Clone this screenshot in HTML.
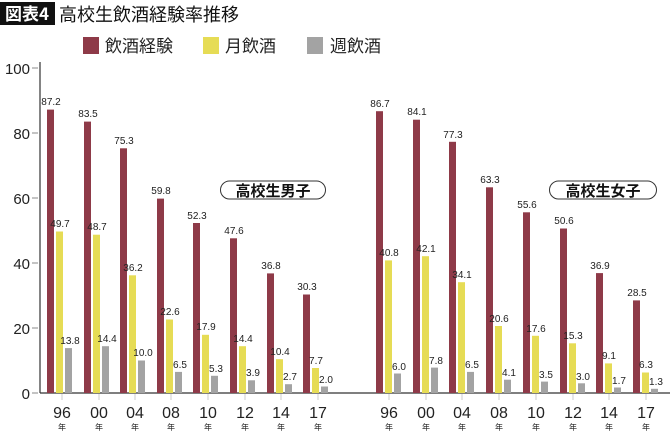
<!DOCTYPE html>
<html><head><meta charset="utf-8"><style>
html,body{margin:0;padding:0;background:#fff;}
svg{display:block;font-family:"Liberation Sans","Noto Sans CJK JP",sans-serif;}
.v{font-size:10px;fill:#222;text-anchor:middle;font-family:"Liberation Sans Narrow","Liberation Sans",sans-serif;}
.yl{font-size:15px;fill:#222;text-anchor:end;}
.xl{font-size:16px;fill:#222;text-anchor:middle;}
.nen{font-size:8px;fill:#222;text-anchor:middle;font-family:"Noto Sans CJK JP",sans-serif;}
</style></head><body>
<svg width="670" height="438" viewBox="0 0 670 438" xmlns="http://www.w3.org/2000/svg">
<rect x="0" y="2" width="55" height="23" fill="#111"/>
<text x="27" y="20" font-size="17" fill="#fff" text-anchor="middle" font-weight="bold" font-family="Noto Sans CJK JP,sans-serif">図表4</text>
<text x="59" y="21" font-size="18" fill="#111" font-family="Noto Sans CJK JP,sans-serif">高校生飲酒経験率推移</text>
<rect x="83" y="37" width="16" height="17" fill="#8e3a48"/>
<text x="105" y="52" font-size="17" fill="#222" font-family="Noto Sans CJK JP,sans-serif">飲酒経験</text>
<rect x="203" y="37" width="16" height="17" fill="#e6dc55"/>
<text x="225" y="52" font-size="17" fill="#222" font-family="Noto Sans CJK JP,sans-serif">月飲酒</text>
<rect x="307" y="37" width="16" height="17" fill="#a3a3a3"/>
<text x="330" y="52" font-size="17" fill="#222" font-family="Noto Sans CJK JP,sans-serif">週飲酒</text>
<line x1="40" y1="62" x2="40" y2="393" stroke="#333" stroke-width="1.2"/>
<line x1="40" y1="393" x2="670" y2="393" stroke="#333" stroke-width="1.2"/>
<g stroke="#888" stroke-width="1">
<line x1="32" y1="68" x2="38" y2="68"/><line x1="32" y1="133" x2="38" y2="133"/><line x1="32" y1="198" x2="38" y2="198"/><line x1="32" y1="263" x2="38" y2="263"/><line x1="32" y1="328" x2="38" y2="328"/><line x1="32" y1="393" x2="38" y2="393"/>
</g>
<text class="yl" x="30" y="74">100</text><text class="yl" x="30" y="139">80</text><text class="yl" x="30" y="204">60</text><text class="yl" x="30" y="269">40</text><text class="yl" x="30" y="334">20</text><text class="yl" x="30" y="399">0</text>
<g fill="#8e3a48">
<rect x="47" y="109.6" width="7" height="283.4"/><rect x="84" y="121.6" width="7" height="271.4"/><rect x="120" y="148.3" width="7" height="244.7"/><rect x="157" y="198.6" width="7" height="194.4"/><rect x="193" y="223" width="7" height="170"/><rect x="230" y="238.3" width="7" height="154.7"/><rect x="267" y="273.4" width="7" height="119.6"/><rect x="303" y="294.5" width="7" height="98.5"/>
<rect x="376" y="111.2" width="7" height="281.8"/><rect x="413" y="119.7" width="7" height="273.3"/><rect x="449" y="141.8" width="7" height="251.2"/><rect x="486" y="187.3" width="7" height="205.7"/><rect x="523" y="212.3" width="7" height="180.7"/><rect x="560" y="228.5" width="7" height="164.5"/><rect x="596" y="273.1" width="7" height="119.9"/><rect x="633" y="300.4" width="7" height="92.6"/>
</g>
<g fill="#e6dc55">
<rect x="56" y="231.5" width="7" height="161.5"/><rect x="93" y="234.7" width="7" height="158.3"/><rect x="129" y="275.3" width="7" height="117.7"/><rect x="166" y="319.5" width="7" height="73.5"/><rect x="202" y="334.8" width="7" height="58.2"/><rect x="239" y="346.2" width="7" height="46.8"/><rect x="276" y="359.2" width="7" height="33.8"/><rect x="312" y="368" width="7" height="25"/>
<rect x="385" y="260.4" width="7" height="132.6"/><rect x="422" y="256.2" width="7" height="136.8"/><rect x="458" y="282.2" width="7" height="110.8"/><rect x="495" y="326" width="7" height="67"/><rect x="532" y="335.8" width="7" height="57.2"/><rect x="569" y="343.3" width="7" height="49.7"/><rect x="605" y="363.4" width="7" height="29.6"/><rect x="642" y="372.5" width="7" height="20.5"/>
</g>
<g fill="#a3a3a3">
<rect x="65" y="348.1" width="7" height="44.9"/><rect x="102" y="346.2" width="7" height="46.8"/><rect x="138" y="360.5" width="7" height="32.5"/><rect x="175" y="371.9" width="7" height="21.1"/><rect x="211" y="375.8" width="7" height="17.2"/><rect x="248" y="380.3" width="7" height="12.7"/><rect x="285" y="384.2" width="7" height="8.8"/><rect x="321" y="386.5" width="7" height="6.5"/>
<rect x="394" y="373.5" width="7" height="19.5"/><rect x="431" y="367.6" width="7" height="25.4"/><rect x="467" y="371.9" width="7" height="21.1"/><rect x="504" y="379.7" width="7" height="13.3"/><rect x="541" y="381.6" width="7" height="11.4"/><rect x="578" y="383.3" width="7" height="9.7"/><rect x="614" y="387.5" width="7" height="5.5"/><rect x="651" y="388.8" width="7" height="4.2"/>
</g>
<g class="v">
<text class="v" x="51" y="105">87.2</text><text class="v" x="88" y="117">83.5</text><text class="v" x="124" y="144">75.3</text><text class="v" x="161" y="194">59.8</text><text class="v" x="197" y="219">52.3</text><text class="v" x="234" y="234">47.6</text><text class="v" x="271" y="269">36.8</text><text class="v" x="307" y="290">30.3</text>
<text class="v" x="60" y="227">49.7</text><text class="v" x="97" y="230">48.7</text><text class="v" x="133" y="271">36.2</text><text class="v" x="170" y="315">22.6</text><text class="v" x="206" y="330">17.9</text><text class="v" x="243" y="342">14.4</text><text class="v" x="280" y="355">10.4</text><text class="v" x="316" y="364">7.7</text>
<text class="v" x="70" y="344">13.8</text><text class="v" x="107" y="342">14.4</text><text class="v" x="143" y="356">10.0</text><text class="v" x="180" y="368">6.5</text><text class="v" x="216" y="372">5.3</text><text class="v" x="253" y="376">3.9</text><text class="v" x="290" y="380">2.7</text><text class="v" x="326" y="383">2.0</text>
<text class="v" x="380" y="107">86.7</text><text class="v" x="417" y="115">84.1</text><text class="v" x="453" y="138">77.3</text><text class="v" x="490" y="183">63.3</text><text class="v" x="527" y="208">55.6</text><text class="v" x="564" y="224">50.6</text><text class="v" x="600" y="269">36.9</text><text class="v" x="637" y="296">28.5</text>
<text class="v" x="389" y="256">40.8</text><text class="v" x="426" y="252">42.1</text><text class="v" x="462" y="278">34.1</text><text class="v" x="499" y="322">20.6</text><text class="v" x="536" y="332">17.6</text><text class="v" x="573" y="339">15.3</text><text class="v" x="609" y="359">9.1</text><text class="v" x="646" y="368">6.3</text>
<text class="v" x="399" y="370">6.0</text><text class="v" x="436" y="364">7.8</text><text class="v" x="472" y="368">6.5</text><text class="v" x="509" y="376">4.1</text><text class="v" x="546" y="378">3.5</text><text class="v" x="583" y="380">3.0</text><text class="v" x="619" y="384">1.7</text><text class="v" x="656" y="385">1.3</text>
</g>
<g stroke="#ccc" stroke-width="1">
<line x1="62" y1="394" x2="62" y2="400"/><line x1="99" y1="394" x2="99" y2="400"/><line x1="135" y1="394" x2="135" y2="400"/><line x1="171" y1="394" x2="171" y2="400"/><line x1="208" y1="394" x2="208" y2="400"/><line x1="245" y1="394" x2="245" y2="400"/><line x1="281" y1="394" x2="281" y2="400"/><line x1="318" y1="394" x2="318" y2="400"/>
<line x1="389" y1="394" x2="389" y2="400"/><line x1="426" y1="394" x2="426" y2="400"/><line x1="462" y1="394" x2="462" y2="400"/><line x1="499" y1="394" x2="499" y2="400"/><line x1="536" y1="394" x2="536" y2="400"/><line x1="573" y1="394" x2="573" y2="400"/><line x1="609" y1="394" x2="609" y2="400"/><line x1="646" y1="394" x2="646" y2="400"/>
</g>
<g>
<text class="xl" x="62" y="418">96</text><text class="xl" x="99" y="418">00</text><text class="xl" x="135" y="418">04</text><text class="xl" x="171" y="418">08</text><text class="xl" x="208" y="418">10</text><text class="xl" x="245" y="418">12</text><text class="xl" x="281" y="418">14</text><text class="xl" x="318" y="418">17</text>
<text class="xl" x="389" y="418">96</text><text class="xl" x="426" y="418">00</text><text class="xl" x="462" y="418">04</text><text class="xl" x="499" y="418">08</text><text class="xl" x="536" y="418">10</text><text class="xl" x="573" y="418">12</text><text class="xl" x="609" y="418">14</text><text class="xl" x="646" y="418">17</text>
<text class="nen" x="62" y="430">年</text><text class="nen" x="99" y="430">年</text><text class="nen" x="135" y="430">年</text><text class="nen" x="171" y="430">年</text><text class="nen" x="208" y="430">年</text><text class="nen" x="245" y="430">年</text><text class="nen" x="281" y="430">年</text><text class="nen" x="318" y="430">年</text>
<text class="nen" x="389" y="430">年</text><text class="nen" x="426" y="430">年</text><text class="nen" x="462" y="430">年</text><text class="nen" x="499" y="430">年</text><text class="nen" x="536" y="430">年</text><text class="nen" x="573" y="430">年</text><text class="nen" x="609" y="430">年</text><text class="nen" x="646" y="430">年</text>
</g>
<rect x="220.5" y="181" width="105" height="18" rx="9" fill="#fff" stroke="#333" stroke-width="1"/>
<text x="273" y="196" font-size="15" fill="#111" text-anchor="middle" font-weight="bold" font-family="Noto Sans CJK JP,sans-serif">高校生男子</text>
<rect x="549.5" y="181" width="107" height="18" rx="9" fill="#fff" stroke="#333" stroke-width="1"/>
<text x="603" y="196" font-size="15" fill="#111" text-anchor="middle" font-weight="bold" font-family="Noto Sans CJK JP,sans-serif">高校生女子</text>
</svg>
</body></html>
